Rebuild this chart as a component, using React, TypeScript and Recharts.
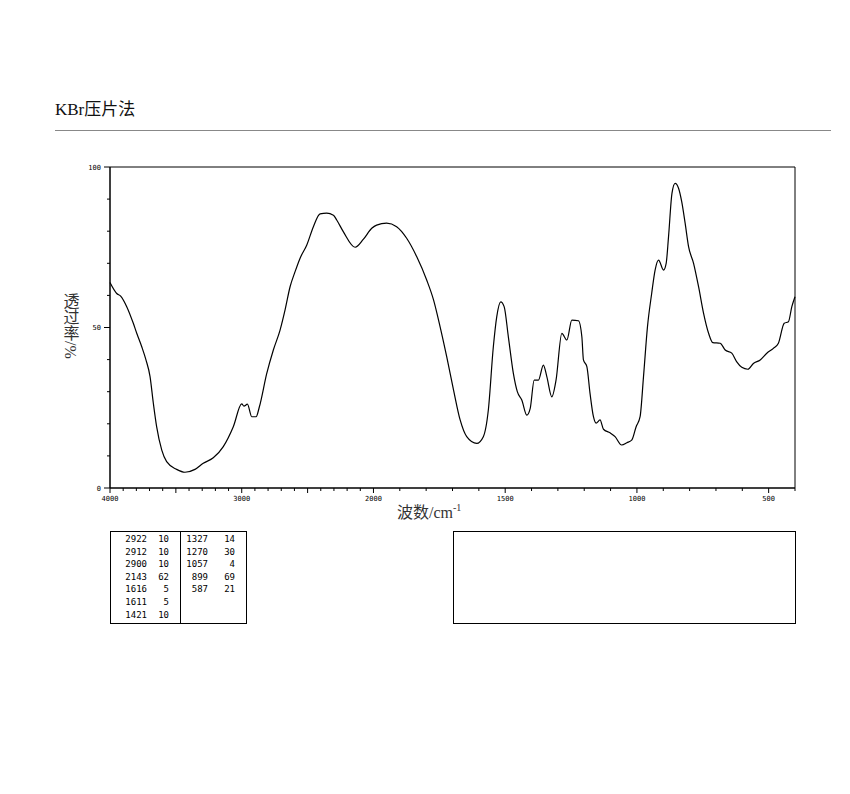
import { LineChart, Line, XAxis, YAxis, ReferenceArea } from 'recharts';

// spectrum: wavenumber (cm-1) and transmittance (%)
const wavenumbers = [
    4000, 3949, 3919, 3873, 3823, 3797, 3759, 3727, 3696, 3671, 3646, 3607, 3570, 3494, 3431, 3355,
    3292, 3216, 3140, 3064, 3000, 2983, 2957, 2924, 2891, 2866, 2810, 2760, 2709, 2671, 2633, 2595,
    2557, 2506, 2456, 2405, 2355, 2304, 2279, 2228, 2139, 2076, 2013, 1988, 1950, 1912, 1874, 1836,
    1798, 1772, 1747, 1722, 1696, 1671, 1646, 1608, 1583, 1564, 1545, 1532, 1517, 1504, 1488, 1469,
    1454, 1437, 1418, 1405, 1390, 1374, 1355, 1342, 1323, 1307, 1285, 1266, 1247, 1222, 1209, 1203,
    1190, 1178, 1165, 1155, 1140, 1127, 1102, 1083, 1058, 1038, 1019, 1003, 988, 975, 960, 944,
    931, 918, 899, 889, 880, 867, 855, 842, 830, 817, 804, 785, 766, 747, 728, 712,
    684, 665, 640, 621, 602, 579, 558, 532, 507, 482, 463, 441, 425, 412, 400,
];
const transmittance = [
    64, 60.6, 59.8, 56.5, 51.3, 48.2, 44, 39.9, 34.7, 26.4, 19.1, 11.8, 8.2, 5.8, 4.9, 5.8,
    7.7, 9.4, 12.9, 19.1, 26.2, 25.5, 26.1, 22.2, 22.2, 25.3, 35.7, 43, 49.2, 55.5, 62.7, 67.4,
    71.6, 75.7, 81.4, 85.4, 85.6, 85, 83.5, 79.8, 75, 77.5, 80.9, 81.9, 82.5, 81.4, 77.8, 72.1,
    64.8, 58.6, 50.2, 40.9, 30.5, 21.2, 16, 13.9, 16, 24.3, 44, 53.4, 58, 56.5, 47.1, 35.7,
    30, 27.4, 22.7, 24.8, 33.6, 33.6, 38.3, 34.7, 28.4, 33.6, 48.2, 46.1, 52.3, 52.1, 47.1, 39.9,
    37.8, 29.5, 22.2, 20.2, 21.2, 18.3, 17.2, 16, 13.4, 14.1, 15, 19.1, 22.2, 34.7, 50.2, 60.6,
    67.9, 71, 67.9, 70, 78.3, 91.8, 94.9, 93.4, 89.2, 82.5, 75.2, 70, 62.7, 54.4, 48.2, 45.3,
    45.1, 43, 42, 39.3, 37.6, 37, 38.8, 39.9, 42, 43.5, 45.1, 51.3, 51.8, 56.5, 59.6,
];

const xLabelWaves = [4000, 3000, 2000, 1500, 1000, 500];
const yTicks = [0, 10, 20, 30, 40, 50, 60, 70, 80, 90, 100];
const yLabelTicks = [0, 50, 100];

// peak table
const peakWaveLeft = [2922, 2912, 2900, 2143, 1616, 1611, 1421];
const peakIntLeft = [10, 10, 10, 62, 5, 5, 10];
const peakWaveRight = [1327, 1270, 1057, 899, 587];
const peakIntRight = [14, 30, 4, 69, 21];

// the scale doubles below 2000 cm-1, so plot against a stretched coordinate
const toAxis = (w: number) => (w >= 2000 ? 4000 - w : 2000 + (2000 - w) * 2);
const fromAxis = (u: number) => (u <= 2000 ? 4000 - u : 2000 - (u - 2000) / 2);

const xTickWaves: number[] = [];
for (let w = 4000; w >= 400; w -= 100) xTickWaves.push(w);

const chartData = wavenumbers.map((w, i) => ({ u: toAxis(w), t: transmittance[i] }));

const tickFont = '"DejaVu Sans Mono", monospace';
const labelFont = '"Liberation Serif", "Noto Sans CJK SC", serif';

function XTick(props: any) {
    const { x, y, payload } = props;
    const w = Math.round(fromAxis(payload.value));
    const len = w % 500 === 0 ? 5 : 3;
    return (
        <g>
            <line x1={x} y1={y} x2={x} y2={y + len} stroke="#000" />
            {xLabelWaves.includes(w) && (
                <text x={x} y={y + 13} textAnchor="middle" fontSize={7} fontFamily={tickFont} fill="#000">
                    {w}
                </text>
            )}
        </g>
    );
}

function YTick(props: any) {
    const { x, y, payload } = props;
    const v = payload.value;
    const len = v % 50 === 0 ? 6 : 3;
    return (
        <g>
            <line x1={x - len} y1={y} x2={x} y2={y} stroke="#000" />
            {yLabelTicks.includes(v) && (
                <text x={x - 9} y={y + 2.5} textAnchor="end" fontSize={7} fontFamily={tickFont} fill="#000">
                    {v}
                </text>
            )}
        </g>
    );
}

function PeakColumn({ waves, ints, left, waveRight, intRight }: { waves: number[]; ints: number[]; left: number; waveRight: number; intRight: number }) {
    return (
        <>
            {waves.map((w, i) => (
                <div key={w} style={{ position: 'absolute', left: 0, top: 1 + i * 12.6, width: '100%', height: 12, lineHeight: '12px' }}>
                    <span style={{ position: 'absolute', right: 137 - (waveRight - left), textAlign: 'right' }}>{w}</span>
                    <span style={{ position: 'absolute', right: 137 - (intRight - left), textAlign: 'right' }}>{ints[i]}</span>
                </div>
            ))}
        </>
    );
}

export default function App() {
    return (
        <div style={{ position: 'absolute', left: 0, top: 0, width: 850, height: 794, background: '#fff' }}>
            <div style={{ position: 'absolute', left: 55, top: 99, fontSize: 17, lineHeight: '22px', fontFamily: labelFont, color: '#111' }}>
                KBr压片法
            </div>
            <div style={{ position: 'absolute', left: 55, top: 130, width: 776, height: 1, background: '#888' }} />

            <div style={{ position: 'absolute', left: 0, top: 0 }}>
                <LineChart width={850} height={540} data={chartData} margin={{ top: 167, right: 55, bottom: 22, left: 70 }}>
                    <XAxis
                        dataKey="u"
                        type="number"
                        domain={[0, 5200]}
                        ticks={xTickWaves.map(toAxis)}
                        interval={0}
                        height={30}
                        tickSize={0}
                        tickMargin={0}
                        tickLine={false}
                        stroke="#000"
                        tick={(p: any) => <XTick {...p} />}
                        label={{
                            content: () => (
                                <text x={397} y={518} fontFamily={labelFont} fontSize={16} fill="#333">
                                    波数/cm
                                    <tspan dy={-7} fontSize={10}>-1</tspan>
                                </text>
                            ),
                        }}
                    />
                    <YAxis
                        type="number"
                        domain={[0, 100]}
                        ticks={yTicks}
                        interval={0}
                        width={40}
                        tickSize={0}
                        tickMargin={0}
                        tickLine={false}
                        stroke="#000"
                        tick={(p: any) => <YTick {...p} />}
                        label={{
                            content: () => (
                                <text x={70} y={293} fontFamily={labelFont} fontSize={16} fill="#333" style={{ writingMode: 'vertical-rl' }}>
                                    透过率/%
                                </text>
                            ),
                        }}
                    />
                    <ReferenceArea x1={0} x2={5200} y1={0} y2={100} fill="none" stroke="#000" strokeWidth={1} />
                    <Line
                        type="monotone"
                        dataKey="t"
                        stroke="#000"
                        strokeWidth={1.2}
                        dot={false}
                        isAnimationActive={false}
                    />
                </LineChart>
            </div>

            <div style={{ position: 'absolute', left: 110, top: 531, width: 137, height: 93, boxSizing: 'border-box', border: '1px solid #000', fontFamily: tickFont, fontSize: 9, color: '#000' }}>
                <div style={{ position: 'absolute', left: 69, top: 0, width: 1, height: '100%', background: '#000' }} />
                <PeakColumn waves={peakWaveLeft} ints={peakIntLeft} left={110} waveRight={148} intRight={170} />
                <PeakColumn waves={peakWaveRight} ints={peakIntRight} left={110} waveRight={209} intRight={236} />
            </div>
            <div style={{ position: 'absolute', left: 453, top: 531, width: 343, height: 93, boxSizing: 'border-box', border: '1px solid #000' }} />
        </div>
    );
}
